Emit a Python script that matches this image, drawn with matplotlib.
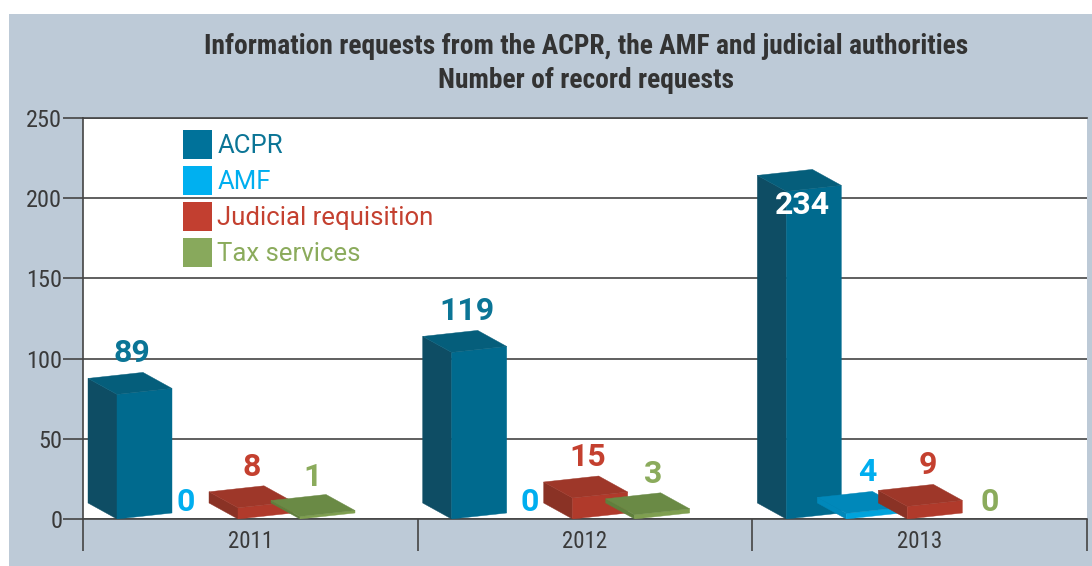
import matplotlib
matplotlib.use('Agg')
import matplotlib.pyplot as plt
from matplotlib.patches import Polygon, Patch, Rectangle

years = ['2011', '2012', '2013']
series = ['ACPR', 'AMF', 'Judicial requisition', 'Tax services']
acpr = [89, 119, 234]
amf = [0, 0, 4]
judicial = [8, 15, 9]
tax = [1, 3, 0]
y_ticks = [0, 50, 100, 150, 200, 250]

values = [acpr, amf, judicial, tax]

text_colors = ['#0B7596', '#00AEEF', '#C4402F', '#8BAB5C']
swatch_colors = ['#00729A', '#00B0F0', '#C23F30', '#88A95C']
front_colors = ['#006A8E', '#00A3DC', '#B03A2B', '#7F9F50']
top_colors = ['#055E7B', '#0088BA', '#9E3729', '#6A8A45']
side_colors = ['#0E4D64', '#0088BA', '#8A3225', '#5F7F3D']

W, H = 1092, 566
AX_L, AX_R, AX_T, AX_B = 83, 1087, 118, 519
PX_X = (AX_R - AX_L) / 3.0
PX_Y = (AX_B - AX_T) / 250.0
BAR_PX_PER_UNIT = 1.40   # the bars are drawn shorter than the axis scale

SERIES_OFFSET = [34, 94, 155, 217]
BAR_W = 55
DEPTH_X, DEPTH_Y = 29, 16
SKEW = 6

# label shift from the front left corner of the bar, in pixels
label_dx = [[15, 9, 14, 13], [15, 18, 15, 19], [16, 21, 20, 20]]

FONT_NARROW = ['Roboto Condensed', 'Roboto', 'DejaVu Sans']


def draw_bar(ax, group, idx, value):
    x0 = group + SERIES_OFFSET[idx] / PX_X
    w = BAR_W / PX_X
    dx = DEPTH_X / PX_X
    dy = DEPTH_Y / PX_Y
    sk = SKEW / PX_Y
    h = max(value * BAR_PX_PER_UNIT, 2.5) / PX_Y

    front = [(x0, 0), (x0 + w, sk), (x0 + w, sk + h), (x0, h)]
    side = [(x0, 0), (x0, h), (x0 - dx, h + dy), (x0 - dx, dy)]
    top = [(x0, h), (x0 + w, h + sk), (x0 + w - dx, h + sk + dy), (x0 - dx, h + dy)]
    ax.add_patch(Polygon(side, fc=side_colors[idx], ec=side_colors[idx], lw=0.3, zorder=3))
    ax.add_patch(Polygon(front, fc=front_colors[idx], ec=front_colors[idx], lw=0.3, zorder=3))
    ax.add_patch(Polygon(top, fc=top_colors[idx], ec=top_colors[idx], lw=0.3, zorder=3))


def draw_label(ax, group, idx, value):
    x0 = group + SERIES_OFFSET[idx] / PX_X + label_dx[group][idx] / PX_X
    color = text_colors[idx]
    if value == 0:
        y = 17
    elif value > 200:
        y = value * BAR_PX_PER_UNIT - 14
        color = 'white'
    else:
        y = value * BAR_PX_PER_UNIT + 41
    ax.text(x0, y / PX_Y, str(value), color=color, fontsize=23, fontweight='bold',
            family='Roboto', ha='center', va='center', zorder=5)


fig = plt.figure(figsize=(W / 100, H / 100), dpi=100, facecolor='white')
fig.add_artist(Rectangle((9 / W, 0), 1 - 9 / W, 1 - 14 / H, transform=fig.transFigure,
                         fc='#BDCAD7', ec='none', zorder=-5))
ax = fig.add_axes([AX_L / W, 1 - AX_B / H, (AX_R - AX_L) / W, (AX_B - AX_T) / H])
ax.set_facecolor('white')
ax.set_xlim(0, 3)
ax.set_ylim(0, 250)

ax.spines['right'].set_visible(False)
for s in ['left', 'top', 'bottom']:
    ax.spines[s].set_color('#444444')
    ax.spines[s].set_linewidth(1.2)

ax.yaxis.grid(True, color='#444444', lw=1.2, zorder=1)
ax.set_axisbelow(True)
ax.set_yticks(y_ticks)
ax.set_yticklabels([str(t) for t in y_ticks], family=FONT_NARROW, fontsize=17.5, color='#3A3A3A')
ax.tick_params(axis='y', length=14.5, width=1.2, color='#444444', pad=0.5)

ax.set_xticks([0, 1, 2, 3])
ax.set_xticklabels([])
ax.tick_params(axis='x', length=23, width=1.2, color='#444444')
for i, year in enumerate(years):
    ax.annotate(year, (i + 0.5, 0), xytext=(0, -16), textcoords='offset points',
                ha='center', va='center', family=FONT_NARROW, fontsize=16.5, color='#3A3A3A')

for g in range(len(years)):
    for i in range(len(series)):
        if values[i][g] > 0:
            draw_bar(ax, g, i, values[i][g])
for g in range(len(years)):
    for i in range(len(series)):
        draw_label(ax, g, i, values[i][g])

handles = [Patch(fc=c, ec='none', label=n) for c, n in zip(swatch_colors, series)]
leg = ax.legend(handles=handles, loc='upper left',
                bbox_to_anchor=((183 - AX_L) / (AX_R - AX_L), 1 - (130 - AX_T) / (AX_B - AX_T)),
                frameon=False, borderaxespad=0, borderpad=0,
                handlelength=1.13, handleheight=1.36, handletextpad=0.2, labelspacing=0.27,
                prop={'family': 'Roboto', 'size': 18.5})
for t, c in zip(leg.get_texts(), text_colors):
    t.set_color(c)
leg.set_zorder(4)

fig.text(586 / W, 1 - 47 / H, 'Information requests from the ACPR, the AMF and judicial authorities',
         family=FONT_NARROW, fontweight='bold', fontsize=19.8, color='#333333', ha='center', va='center')
fig.text(586 / W, 1 - 81 / H, 'Number of record requests',
         family=FONT_NARROW, fontweight='bold', fontsize=19.8, color='#333333', ha='center', va='center')

fig.savefig('out.png', dpi=100, facecolor=fig.get_facecolor())
plt.close()
